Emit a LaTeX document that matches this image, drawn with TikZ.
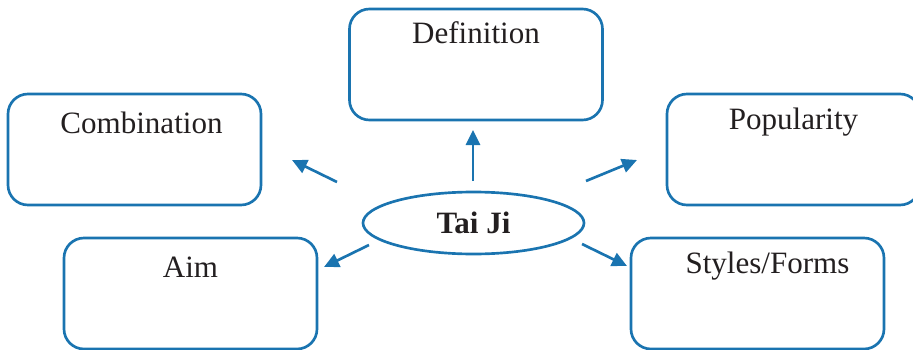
\documentclass[tikz,border=0pt]{standalone}
\usepackage{fontspec}
\setmainfont{Liberation Serif}
\usepackage{tikz}
\usetikzlibrary{arrows.meta,shapes.geometric}
\definecolor{cline}{HTML}{1A74B0}
\definecolor{ctext}{HTML}{231F20}
\tikzset{
  topicbox/.style={rectangle, rounded corners=0.6cm, draw=cline, line width=0.08cm,
                   minimum width=7.59cm, inner sep=0pt, text height=1.05cm, text depth=2.28cm,
                   text=ctext, font=\fontsize{26.5}{30}\selectfont},
  lowtext/.style={text height=1.17cm, text depth=2.16cm},
  hub/.style={ellipse, draw=cline, line width=0.08cm, minimum width=6.63cm, minimum height=1.86cm,
              inner sep=0pt, text=ctext, font=\fontsize{26.5}{30}\selectfont\bfseries},
  flow/.style={-{Triangle[length=0.45cm, width=0.42cm]}, line width=0.08cm, draw=cline}
}
\begin{document}
\begin{tikzpicture}
\useasboundingbox (0,0) rectangle (27.39,10.47);
\clip (0,0) rectangle (27.39,10.47);
\node[hub] (taiji) at (14.205,3.78) {Tai Ji};
\node[topicbox] (defn) at (14.28,8.535) {Definition};
\node[topicbox, lowtext] (comb) at (4.035,5.985) {\hspace*{0.42cm}Combination};
\node[topicbox] (popu) at (23.805,5.985) {Popularity};
\node[topicbox, lowtext] (aim) at (5.715,1.665) {Aim};
\node[topicbox] (styl) at (22.725,1.665) {\hspace*{0.6cm}Styles/Forms};
% arrow ends
\coordinate (c1) at (10.11,5.01); \coordinate (c1t) at (8.76,5.67);
\coordinate (c2) at (14.19,5.04); \coordinate (c2t) at (14.19,6.57);
\coordinate (c3) at (17.58,5.04); \coordinate (c3t) at (19.11,5.67);
\coordinate (c4) at (11.07,3.12); \coordinate (c4t) at (9.72,2.46);
\coordinate (c5) at (17.46,3.15); \coordinate (c5t) at (18.81,2.49);
\draw[flow] (c1)--(c1t);\draw[flow] (c2)--(c2t);\draw[flow] (c3)--(c3t);\draw[flow] (c4)--(c4t);\draw[flow] (c5)--(c5t);
\end{tikzpicture}
\end{document}
